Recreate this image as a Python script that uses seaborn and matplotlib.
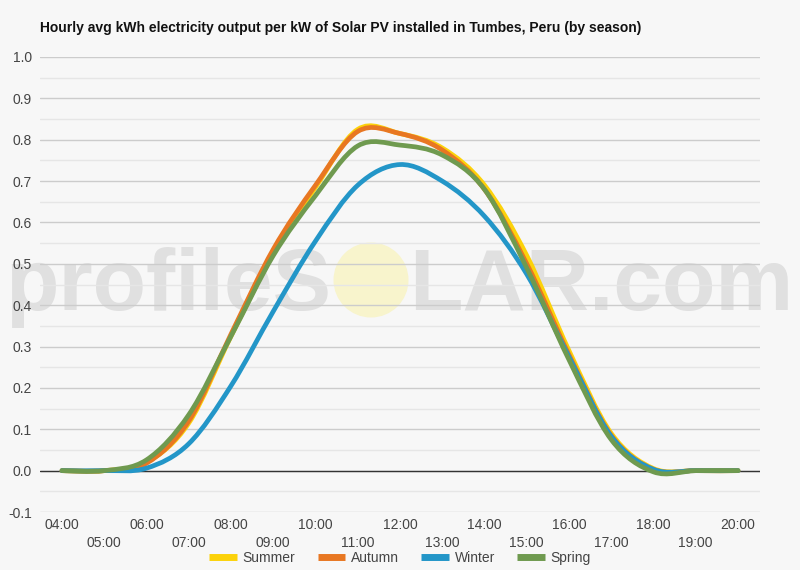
import numpy as np
import pandas as pd
import matplotlib
matplotlib.use("Agg")
import matplotlib.pyplot as plt
import seaborn as sns
from matplotlib.path import Path
from matplotlib.patches import PathPatch, Ellipse

# hourly averages (kWh per kW installed)
hours = list(range(4, 21))
summer = [0.0, 0.0, 0.02, 0.115, 0.325, 0.525, 0.685, 0.825, 0.815, 0.78, 0.69, 0.52, 0.29, 0.09, 0.005, 0.0, 0.0]
autumn = [0.0, 0.0, 0.018, 0.12, 0.33, 0.535, 0.69, 0.82, 0.815, 0.775, 0.68, 0.50, 0.28, 0.085, 0.003, 0.0, 0.0]
winter = [0.0, 0.0, 0.006, 0.065, 0.205, 0.385, 0.555, 0.69, 0.74, 0.70, 0.615, 0.475, 0.275, 0.083, 0.003, 0.0, 0.0]
spring = [0.0, 0.0, 0.026, 0.135, 0.325, 0.52, 0.665, 0.785, 0.787, 0.763, 0.68, 0.49, 0.268, 0.075, -0.003, 0.0, 0.0]
seasons = ["Summer", "Autumn", "Winter", "Spring"]
colors = ["#fcd20a", "#e87722", "#2396c8", "#6f9a4f"]
hour_labels = [f"{h:02d}:00" for h in hours]

BG = "#f7f7f7"

df = pd.DataFrame({"hour": hours, "Summer": summer, "Autumn": autumn,
                   "Winter": winter, "Spring": spring})
long_df = df.melt(id_vars="hour", var_name="season", value_name="kwh")


def curve_path(x, y):
    # catmull-rom through the hourly points, as bezier segments
    pts = np.column_stack([x, y]).astype(float)
    ext = np.vstack([pts[0], pts, pts[-1]])
    verts = [pts[0]]
    codes = [Path.MOVETO]
    for i in range(len(pts) - 1):
        p0, p1, p2, p3 = ext[i], ext[i + 1], ext[i + 2], ext[i + 3]
        verts += [p1 + (p2 - p0) / 6.0, p2 - (p3 - p1) / 6.0, p2]
        codes += [Path.CURVE4] * 3
    return Path(verts, codes)


sns.set_theme(style="white")
plt.rcParams["font.family"] = ["Liberation Sans", "DejaVu Sans"]

fig = plt.figure(figsize=(8, 5.7), dpi=100, facecolor=BG)
ax = fig.add_axes([0.05, 1 - 512 / 570, 0.90, (512 - 57) / 570])
ax.set_facecolor(BG)

sns.lineplot(data=long_df, x="hour", y="kwh", hue="season", hue_order=seasons,
             palette=colors, linewidth=3.4, ax=ax)

# swap the straight hourly lines for smooth curves
for line, s, c in zip(list(ax.lines), seasons, colors):
    line.set_visible(False)
    patch = PathPatch(curve_path(hours, df[s].values), facecolor="none",
                      edgecolor=c, lw=3.4, capstyle="round", joinstyle="round", zorder=3)
    ax.add_patch(patch)

ax.set_xlim(4 - 22 / 42.25, 20 + 22 / 42.25)
ax.set_ylim(-0.1, 1.0)

ax.set_yticks(np.round(np.arange(-0.1, 1.01, 0.1), 1))
ax.set_yticklabels([f"{v:.1f}" for v in np.arange(-0.1, 1.01, 0.1)])
ax.set_yticks(np.arange(-0.05, 1.0, 0.1), minor=True)
ax.set_xticks(hours[::2])
ax.set_xticklabels(hour_labels[::2])
ax.set_xticks(hours[1::2], minor=True)
ax.set_xticklabels(hour_labels[1::2], minor=True)

ax.tick_params(axis="both", which="both", length=0, labelsize=10, labelcolor="#444444")
ax.tick_params(axis="x", which="major", pad=4)
ax.tick_params(axis="x", which="minor", pad=17.5)
ax.tick_params(axis="y", pad=6)

ax.set_axisbelow(True)
ax.grid(axis="y", which="major", color="#cccccc", lw=1)
ax.grid(axis="y", which="minor", color="#e6e6e6", lw=1)
ax.grid(axis="x", visible=False)
ax.axhline(0, color="#333333", lw=1, zorder=2)
for sp in ax.spines.values():
    sp.set_visible(False)
ax.set_xlabel("")
ax.set_ylabel("")

# watermark
ax.text(5 / 800, 1 - 310 / 570, "profileS", transform=fig.transFigure, fontsize=63,
        fontweight="bold", color="#e0e0e0", ha="left", va="baseline",
        zorder=0.2, clip_on=False)
ax.text(793 / 800, 1 - 310 / 570, "LAR.com", transform=fig.transFigure, fontsize=63,
        fontweight="bold", color="#e0e0e0", ha="right", va="baseline",
        zorder=0.2, clip_on=False)
ax.add_patch(Ellipse((371 / 800, 1 - 280 / 570), 75 / 800, 75 / 570,
                     transform=fig.transFigure, facecolor="#f8f4cc",
                     edgecolor="none", zorder=0.2, clip_on=False))

fig.text(40 / 800, 1 - 28 / 570,
         "Hourly avg kWh electricity output per kW of Solar PV installed in Tumbes, Peru (by season)",
         fontsize=10, fontweight="bold", color="#111111", ha="left", va="center")

sns.move_legend(ax, "center", bbox_to_anchor=(0.5, 1 - 558 / 570),
                bbox_transform=fig.transFigure, ncol=4, frameon=False, title=None,
                fontsize=10, handlelength=2.0, handletextpad=0.4,
                columnspacing=1.6, borderpad=0)
leg = ax.get_legend()
for h in leg.get_lines():
    h.set_linewidth(5)
    h.set_solid_capstyle("butt")
for t in leg.get_texts():
    t.set_color("#444444")

fig.savefig("out.png", dpi=100, facecolor=BG)
